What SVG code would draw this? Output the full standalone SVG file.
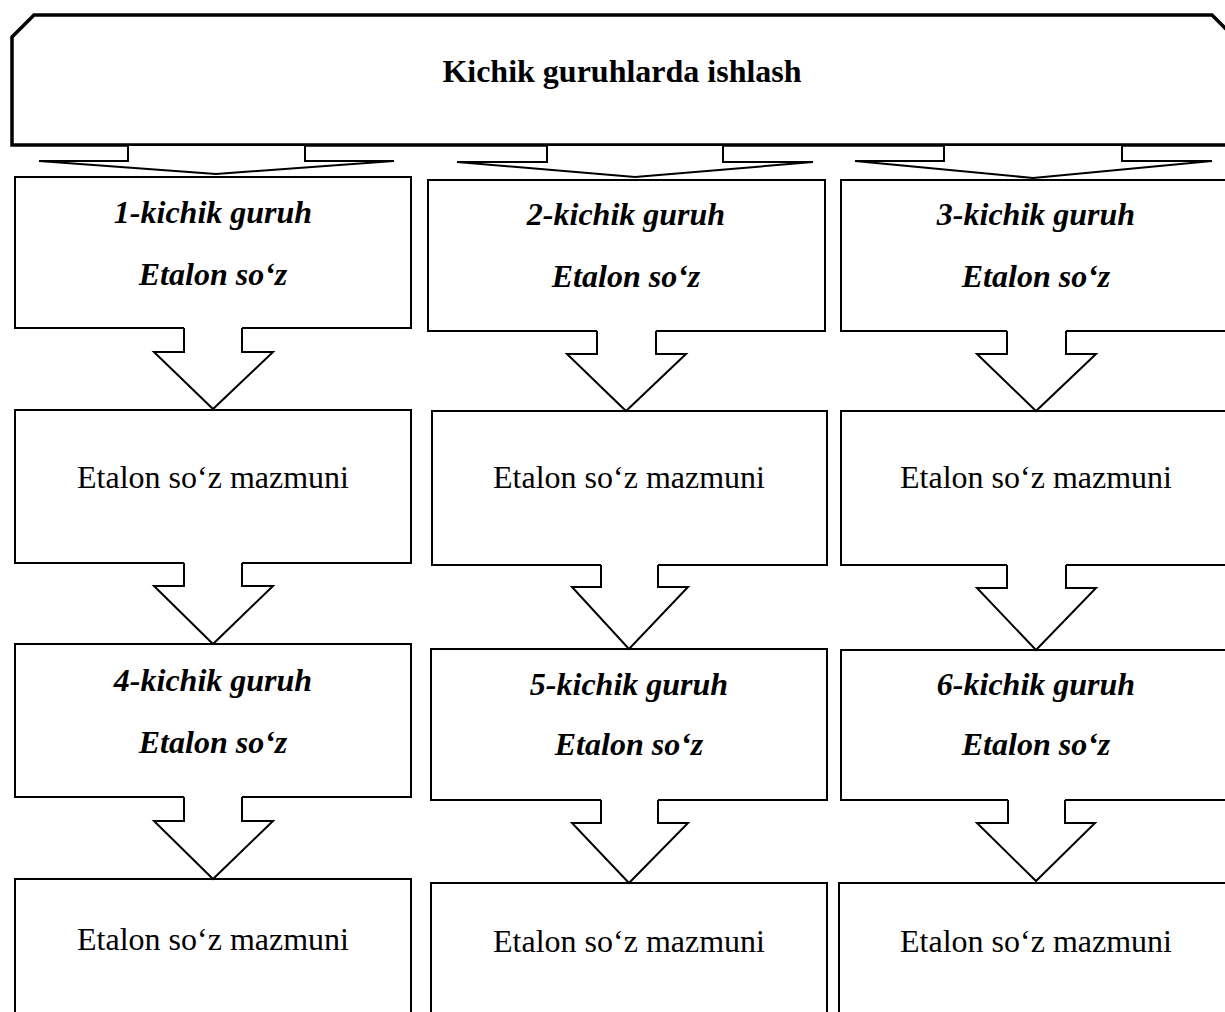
<svg xmlns="http://www.w3.org/2000/svg" width="1225" height="1012" viewBox="0 0 1225 1012">
<style>
.box{fill:#fff;stroke:#000;stroke-width:2}
.top{fill:#fff;stroke:#000;stroke-width:3.5}
.af{fill:#fff;stroke:none}
.as{fill:none;stroke:#000;stroke-width:2;stroke-linejoin:miter}
.ta{fill:#fff;stroke:#000;stroke-width:2}
text{font-family:"Liberation Serif","Times New Roman",serif;font-size:32px;fill:#000;text-anchor:middle}
.bi{font-weight:bold;font-style:italic}
.b{font-weight:bold}
</style>
<rect width="1225" height="1012" fill="#fff"/>
<g id="title">
<path class="top" d="M12,37 L34,15 L1212,15 L1240,43 L1240,145 L12,145 Z"/>
<text class="b" x="622" y="82">Kichik guruhlarda ishlash</text>
</g>
<g id="n1"><rect class="box" x="15" y="177" width="396" height="151"/><text class="bi" x="213" y="223">1-kichik guruh</text><text class="bi" x="213" y="285">Etalon so‘z</text></g>
<g id="n2"><rect class="box" x="428" y="180" width="397" height="151"/><text class="bi" x="626" y="225">2-kichik guruh</text><text class="bi" x="626" y="287">Etalon so‘z</text></g>
<g id="n3"><rect class="box" x="841" y="180" width="400" height="151"/><text class="bi" x="1036" y="225">3-kichik guruh</text><text class="bi" x="1036" y="287">Etalon so‘z</text></g>
<g id="n4"><rect class="box" x="15" y="410" width="396" height="153"/><text x="213" y="488">Etalon so‘z mazmuni</text></g>
<g id="n5"><rect class="box" x="432" y="411" width="395" height="154"/><text x="629" y="488">Etalon so‘z mazmuni</text></g>
<g id="n6"><rect class="box" x="841" y="411" width="400" height="154"/><text x="1036" y="488">Etalon so‘z mazmuni</text></g>
<g id="n7"><rect class="box" x="15" y="644" width="396" height="153"/><text class="bi" x="213" y="691">4-kichik guruh</text><text class="bi" x="213" y="753">Etalon so‘z</text></g>
<g id="n8"><rect class="box" x="431" y="649" width="396" height="151"/><text class="bi" x="629" y="695">5-kichik guruh</text><text class="bi" x="629" y="755">Etalon so‘z</text></g>
<g id="n9"><rect class="box" x="841" y="650" width="400" height="150"/><text class="bi" x="1036" y="695">6-kichik guruh</text><text class="bi" x="1036" y="755">Etalon so‘z</text></g>
<g id="n10"><rect class="box" x="15" y="879" width="396" height="150"/><text x="213" y="950">Etalon so‘z mazmuni</text></g>
<g id="n11"><rect class="box" x="431" y="883" width="396" height="150"/><text x="629" y="952">Etalon so‘z mazmuni</text></g>
<g id="n12"><rect class="box" x="839" y="883" width="400" height="150"/><text x="1036" y="952">Etalon so‘z mazmuni</text></g>
<g id="connectors">
<path class="ta" d="M128,146 L128,161 L39,161 L216,174 L394,161 L305,161 L305,146"/>
<path class="ta" d="M547,146 L547,162 L457,162 L635,177 L813,162 L723,162 L723,146"/>
<path class="ta" d="M944,146 L944,161 L855,161 L1033,178 L1212,161 L1122,161 L1122,146"/>
<path class="af" d="M184,326 L184,352 L154,352 L213,409 L273,352 L242,352 L242,326 Z"/>
<path class="as" d="M184,328 L184,352 L154,352 L213,409 L273,352 L242,352 L242,328"/>
<path class="af" d="M597,329 L597,354 L567,354 L626,411 L686,354 L656,354 L656,329 Z"/>
<path class="as" d="M597,331 L597,354 L567,354 L626,411 L686,354 L656,354 L656,331"/>
<path class="af" d="M1007,329 L1007,354 L977,354 L1036,411 L1096,354 L1066,354 L1066,329 Z"/>
<path class="as" d="M1007,331 L1007,354 L977,354 L1036,411 L1096,354 L1066,354 L1066,331"/>
<path class="af" d="M184,561 L184,586 L154,586 L213,644 L273,586 L242,586 L242,561 Z"/>
<path class="as" d="M184,563 L184,586 L154,586 L213,644 L273,586 L242,586 L242,563"/>
<path class="af" d="M601,563 L601,587 L572,587 L629,649 L688,587 L658,587 L658,563 Z"/>
<path class="as" d="M601,565 L601,587 L572,587 L629,649 L688,587 L658,587 L658,565"/>
<path class="af" d="M1007,563 L1007,588 L977,588 L1036,650 L1096,588 L1066,588 L1066,563 Z"/>
<path class="as" d="M1007,565 L1007,588 L977,588 L1036,650 L1096,588 L1066,588 L1066,565"/>
<path class="af" d="M184,795 L184,821 L154,821 L213,879 L273,821 L242,821 L242,795 Z"/>
<path class="as" d="M184,797 L184,821 L154,821 L213,879 L273,821 L242,821 L242,797"/>
<path class="af" d="M601,798 L601,823 L572,823 L629,883 L688,823 L658,823 L658,798 Z"/>
<path class="as" d="M601,800 L601,823 L572,823 L629,883 L688,823 L658,823 L658,800"/>
<path class="af" d="M1008,798 L1008,823 L977,823 L1036,881 L1095,823 L1065,823 L1065,798 Z"/>
<path class="as" d="M1008,800 L1008,823 L977,823 L1036,881 L1095,823 L1065,823 L1065,800"/>
</g>
</svg>
